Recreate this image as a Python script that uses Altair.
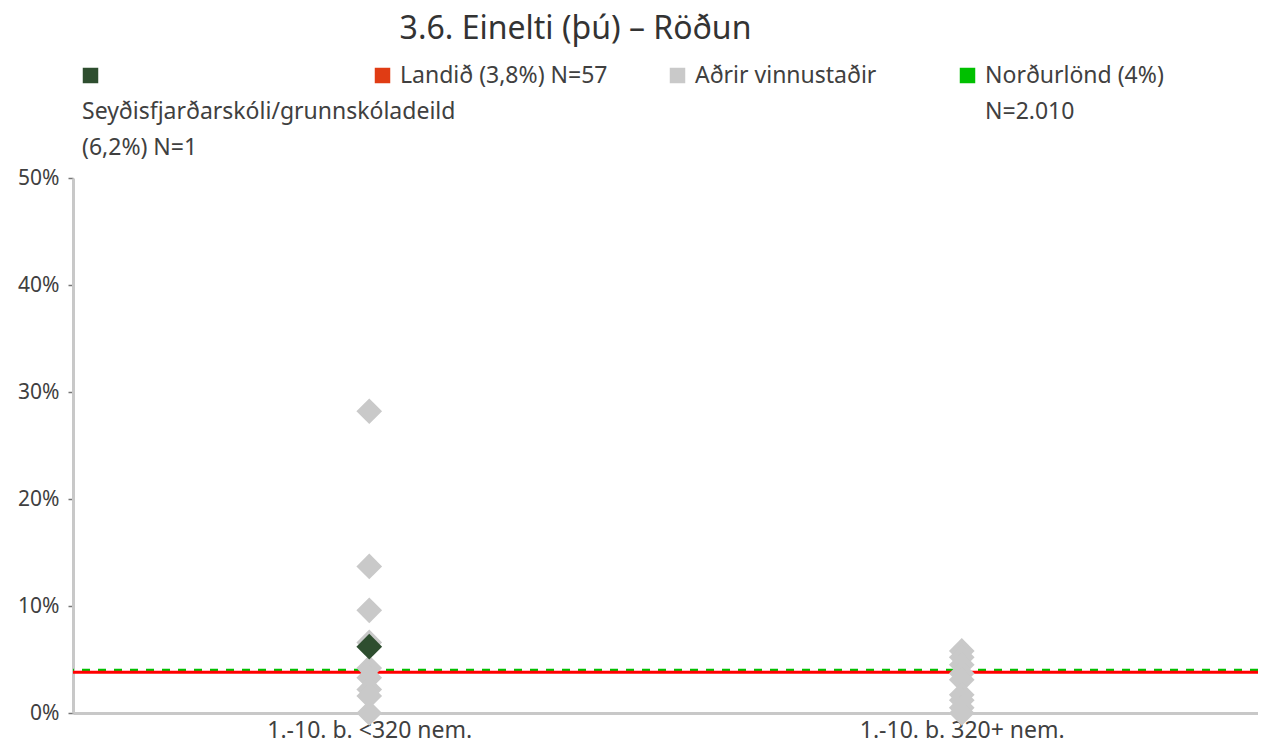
import altair as alt
import pandas as pd

# ---- data ----
categories = ["1.-10. b. <320 nem.", "1.-10. b. 320+ nem."]
others_small = [28.2, 13.7, 9.6, 6.6, 4.2, 3.3, 2.2, 1.6, 0.0]   # Aðrir vinnustaðir, <320
others_large = [5.8, 5.2, 4.5, 3.7, 3.1, 1.7, 1.2, 0.5, 0.0]     # Aðrir vinnustaðir, 320+
school_category = "1.-10. b. <320 nem."
school_value = 6.2
landid_value = 3.8
nordurlond_value = 4.0

series_names = [
    "Seyðisfjarðarskóli/grunnskóladeild (6,2%) N=1",
    "Landið (3,8%) N=57",
    "Aðrir vinnustaðir",
    "Norðurlönd (4%) N=2.010",
]
y_ticks = [0, 10, 20, 30, 40, 50]

FONT = "Noto Sans"
TXT = "#404040"

others = pd.DataFrame(
    {"cat": [categories[0]] * len(others_small) + [categories[1]] * len(others_large),
     "value": others_small + others_large,
     "series": series_names[2]}
)
school = pd.DataFrame({"cat": [school_category], "value": [school_value], "series": [series_names[0]]})
landid = pd.DataFrame({"value": [landid_value], "series": [series_names[1]]})
nordic = pd.DataFrame({"value": [nordurlond_value], "series": [series_names[3]]})

x_enc = alt.X("cat:N", sort=categories, scale=alt.Scale(domain=categories),
              axis=alt.Axis(title=None, labelAngle=0, ticks=False, domainColor="#c8c8c8",
                            domainWidth=3, labelFontSize=23, labelFont=FONT, labelColor=TXT,
                            labelPadding=6, labelLimit=500))
y_scale = alt.Scale(domain=[0, 50], nice=False)
y_axis = alt.Axis(title=None, values=y_ticks, labelExpr="datum.value + '%'", grid=False,
                  domainColor="#c8c8c8", domainWidth=3, tickColor="#777777", tickSize=5,
                  tickWidth=1.5, labelFontSize=21, labelFont=FONT, labelColor=TXT, labelPadding=9)


def leg(x, y, expr, fill, offset="6"):
    return alt.Legend(title=None, orient="none", legendX=x, legendY=y, symbolType="square",
                      symbolSize=240, symbolFillColor=fill, symbolStrokeWidth=0,
                      labelFontSize=23, labelFont=FONT, labelColor=TXT,
                      labelOffset={"expr": offset},
                      labelExpr=expr, labelLimit=600, padding=0)


LY = -114
nordic_rule = alt.Chart(nordic).mark_rule(strokeWidth=3, strokeDash=[8, 8]).encode(
    y=alt.Y("value:Q", scale=y_scale, axis=y_axis),
    color=alt.Color("series:N", scale=alt.Scale(domain=[series_names[3]], range=["#00c000"]),
                    legend=leg(883, LY, "['Norðurlönd (4%)', 'N=2.010']", "#00c000")),
)
landid_rule = alt.Chart(landid).mark_rule(strokeWidth=3).encode(
    y=alt.Y("value:Q", scale=y_scale, axis=y_axis),
    color=alt.Color("series:N", scale=alt.Scale(domain=[series_names[1]], range=["#ff0000"]),
                    legend=leg(298, LY, "['Landið (3,8%) N=57']", "#e03c14")),
)
other_pts = alt.Chart(others).mark_point(shape="diamond", filled=True, size=660, opacity=1).encode(
    x=x_enc,
    y=alt.Y("value:Q", scale=y_scale, axis=y_axis),
    color=alt.Color("series:N", scale=alt.Scale(domain=[series_names[2]], range=["#c9c9c9"]),
                    legend=leg(593, LY, "['Aðrir vinnustaðir']", "#bdbdbd")),
)
school_pt = alt.Chart(school).mark_point(shape="diamond", filled=True, size=660, opacity=1).encode(
    x=x_enc,
    y=alt.Y("value:Q", scale=y_scale, axis=y_axis),
    color=alt.Color("series:N", scale=alt.Scale(domain=[series_names[0]], range=["#2e4e2f"]),
                    legend=leg(6, LY, "['', 'Seyðisfjarðarskóli/grunnskóladeild', '(6,2%) N=1']",
                               "#2e4e2f", offset="-20")),
)

chart = alt.layer(nordic_rule, landid_rule, other_pts, school_pt).resolve_scale(
    color="independent"
).properties(
    width=1185,
    height=535,
    autosize=alt.AutoSizeParams(type="none"),
    padding={"left": 65, "top": 170, "right": 0, "bottom": 30},
    title=alt.TitleParams("3.6. Einelti (þú) – Röðun", fontSize=32, font=FONT, fontWeight="normal",
                          color="#333333", anchor="middle", dx=-90, offset=18),
    config=alt.Config(
        view=alt.ViewConfig(stroke=None),
        legend=alt.LegendConfig(labelBaseline="middle"),
        style={"guide-label": {"lineHeight": 36}},
    ),
)

chart.save("out.html", embed_options={"renderer": "svg", "actions": False})
